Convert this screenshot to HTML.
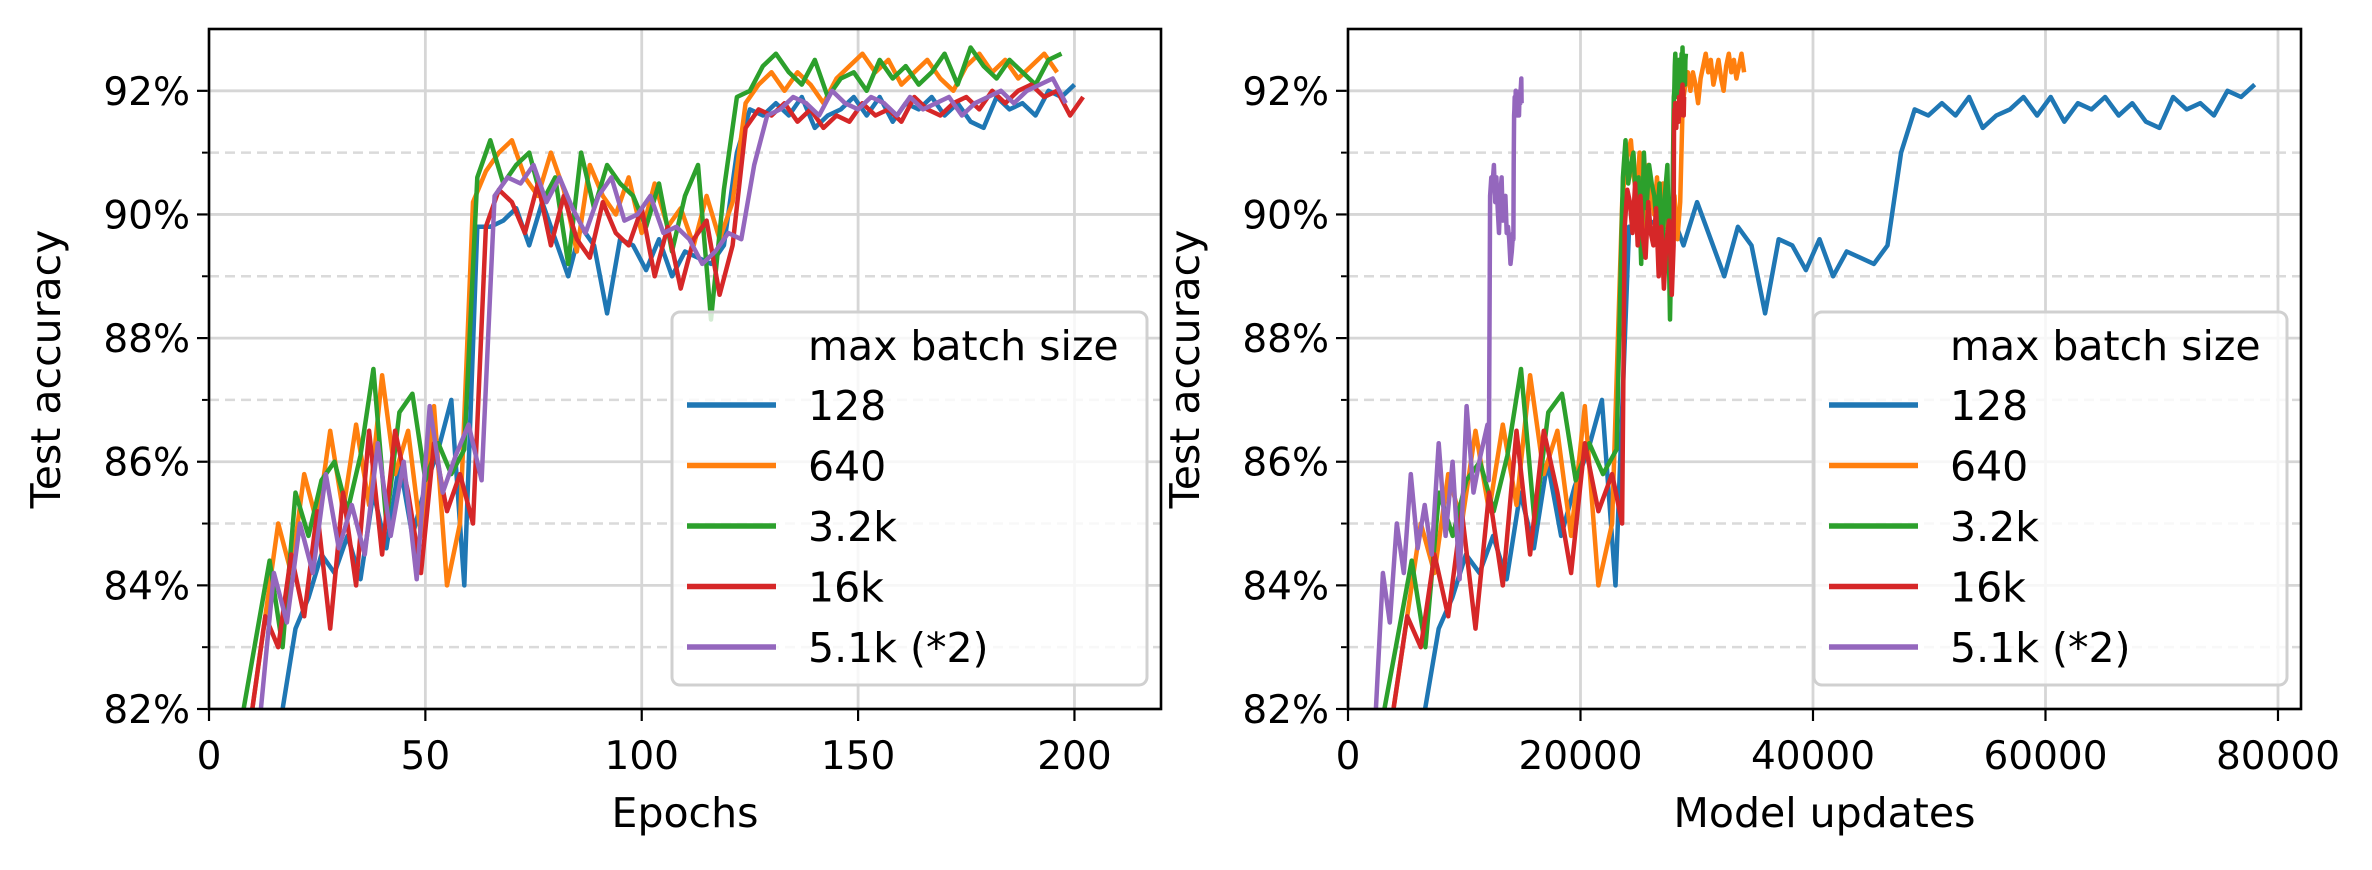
<!DOCTYPE html>
<html><head><meta charset="utf-8"><style>
html,body{margin:0;padding:0;background:#fff;}
svg text{font-family:"DejaVu Sans","Liberation Sans",sans-serif;fill:#000;}
</style></head><body>
<svg id="chart" width="2372" height="865" viewBox="0 0 2372 865" xmlns="http://www.w3.org/2000/svg"></svg>
<script>
const seriesNames = ["128","640","3.2k","16k","5.1k (*2)"];
const seriesColors = ["#1f77b4","#ff7f0e","#2ca02c","#d62728","#9467bd"];
const epochStep = 3;
const startEpochs = [14,10,8,10,12];
const vals128 = [81.5,82,83.3,83.8,84.5,84.2,84.8,84.1,85.5,84.6,86,84.8,85.6,86.2,87,84,89.8,89.8,89.9,90.1,89.5,90.2,89.6,89,89.8,89.5,88.4,89.6,89.5,89.1,89.6,89,89.4,89.3,89.2,89.5,91,91.7,91.6,91.8,91.6,91.9,91.4,91.6,91.7,91.9,91.6,91.9,91.5,91.8,91.7,91.9,91.6,91.8,91.5,91.4,91.9,91.7,91.8,91.6,92,91.9,92.1];
const vals640 = [82,83.5,85,84.2,85.8,85,86.5,85.2,86.6,85.3,87.4,85.8,86.5,84.8,86.9,84,85,90.2,90.7,91,91.2,90.6,90.3,91,90.4,89.4,90.8,90.3,90,90.6,89.7,90.5,89.8,90.1,89.5,90.3,89.6,90.2,91.8,92.1,92.3,92,92.3,92.1,91.8,92.2,92.4,92.6,92.3,92.5,92.1,92.3,92.5,92.2,92,92.4,92.6,92.3,92.5,92.2,92.4,92.6,92.3];
const vals3k = [82,83.2,84.4,83,85.5,84.8,85.7,86,85.2,86.1,87.5,85,86.8,87.1,85.7,86.3,85.8,86.2,90.6,91.2,90.5,90.8,91,90.2,90.6,89.2,91,90.1,90.8,90.5,90.3,89.8,90.5,89.4,90.3,90.8,88.3,90.4,91.9,92,92.4,92.6,92.3,92.1,92.5,91.9,92.2,92.3,92,92.5,92.2,92.4,92.1,92.3,92.6,92.1,92.7,92.4,92.2,92.5,92.3,92.1,92.5,92.6];
const vals16k = [82,83.5,83,84.5,83.5,85.2,83.3,85.5,84,86.5,84.5,86.5,85.5,84.2,86.3,85.2,85.8,85,89.8,90.4,90.2,89.7,90.5,89.5,90.3,89.6,89.3,90.2,89.7,89.5,90.1,89,89.8,88.8,89.6,89.9,88.7,89.5,91.4,91.7,91.6,91.8,91.5,91.7,91.4,91.6,91.5,91.8,91.6,91.7,91.5,91.9,91.7,91.6,91.8,91.9,91.7,92,91.8,92,92.1,91.9,92,91.6,91.9];
const vals51k = [82,84.2,83.4,85,84.2,85.8,84.6,85.3,84.5,86.3,84.8,86,84.1,86.9,85.5,86.1,86.6,85.7,90.3,90.6,90.5,90.8,90.2,90.6,90.1,89.7,90.3,90.6,89.9,90,90.3,89.7,89.8,89.6,89.2,89.4,89.7,89.6,90.8,91.6,91.7,91.9,91.8,91.6,92,91.8,91.7,91.9,91.8,91.6,91.9,91.7,91.8,91.9,91.6,91.8,91.9,92,91.8,92,92.1,92.2,91.8];
const seriesVals = [vals128,vals640,vals3k,vals16k,vals51k];
// epoch -> model update breakpoints
const breakEpochs = [0,60,120,210];
const updates128 = [0,23400,46800,81900];
const updates640 = [0,23500,28500,35100];
const updates3k = [0,23500,28000,29250];
const updates16k = [0,23500,28000,29000];
const updates51k = [0,12000,14200,15050];
const seriesUpdates = [updates128,updates640,updates3k,updates16k,updates51k];
const yTicks = [82,84,86,88,90,92];
const yMinor = [83,85,87,89,91];
const xTicksL = [0,50,100,150,200];
const xTicksR = [0,20000,40000,60000,80000];

const NS="http://www.w3.org/2000/svg";
const svg=document.getElementById('chart');
function mk(tag,attrs,parent){const e=document.createElementNS(NS,tag);for(const k in attrs)e.setAttribute(k,attrs[k]);(parent||svg).appendChild(e);return e;}
function toUpd(ep,br){for(let i=1;i<breakEpochs.length;i++){if(ep<=breakEpochs[i]||i==breakEpochs.length-1){const a=breakEpochs[i-1],b=breakEpochs[i];return br[i-1]+(ep-a)/(b-a)*(br[i]-br[i-1]);}}}

function panel(id,L,R,T,B,xmax,xTicks,xLabel,useUpd,legX){
  const g=mk('g',{});
  
  
  const xs=v=>L+v/xmax*(R-L);
  const ys=v=>B-(v-82)/11*(B-T);
  const cp=mk('clipPath',{id:'clip'+id},g);mk('rect',{x:L,y:T,width:R-L,height:B-T},cp);
  yMinor.forEach(v=>{const l=mk('line',{x1:L,x2:R,y1:ys(v),y2:ys(v),stroke:'#dadada','stroke-width':2.5,'stroke-dasharray':'10,6'},g);
    
    mk('line',{x1:L-7,x2:L,y1:ys(v),y2:ys(v),stroke:'#000','stroke-width':2},g);});
  yTicks.forEach(v=>{const l=mk('line',{x1:L,x2:R,y1:ys(v),y2:ys(v),stroke:'#d6d6d6','stroke-width':2.8},g);
    
    mk('line',{x1:L-12,x2:L,y1:ys(v),y2:ys(v),stroke:'#000','stroke-width':2.2},g);
    const t=mk('text',{x:L-19,y:ys(v)+14,'text-anchor':'end','font-size':39},g);t.textContent=v+'%';
    });
  xTicks.forEach(v=>{const l=mk('line',{x1:xs(v),x2:xs(v),y1:T,y2:B,stroke:'#d6d6d6','stroke-width':2.8},g);
    
    mk('line',{x1:xs(v),x2:xs(v),y1:B,y2:B+12,stroke:'#000','stroke-width':2.2},g);
    const t=mk('text',{x:xs(v),y:B+60,'text-anchor':'middle','font-size':39},g);t.textContent=v;
    });
  const lines=mk('g',{'clip-path':'url(#clip'+id+')'},g);
  seriesVals.forEach((vals,si)=>{
    const pts=vals.map((v,i)=>{const ep=startEpochs[si]+i*epochStep;const x=useUpd?toUpd(ep,seriesUpdates[si]):ep;return xs(x).toFixed(1)+','+ys(v).toFixed(1);});
    const p=mk('polyline',{points:pts.join(' '),fill:'none',stroke:seriesColors[si],'stroke-width':4.5,'stroke-linejoin':'round'},lines);
    
    
  });
  const fr=mk('rect',{x:L,y:T,width:R-L,height:B-T,fill:'none',stroke:'#000','stroke-width':2.6},g);
  
  const xl=mk('text',{x:(L+R)/2,y:827,'text-anchor':'middle','font-size':41},g);xl.textContent=xLabel;
  
  const yl=mk('text',{x:0,y:0,'text-anchor':'middle','font-size':41,transform:'translate('+(L-149)+','+((T+B)/2)+') rotate(-90)'},g);yl.textContent='Test accuracy';
  
  // legend
  const lg=mk('g',{},g);
  
  mk('rect',{x:legX,y:312,width:R-legX-14,height:373,rx:8,fill:'#fff','fill-opacity':0.8,stroke:'#d0d0d0','stroke-width':3},lg);
  const tt=mk('text',{x:legX+136,y:360,'font-size':41},lg);tt.textContent='max batch size';
  
  seriesNames.forEach((n,i)=>{const y=420+i*60.5;
    const e=mk('g',{},lg);
    mk('line',{x1:legX+15,x2:legX+104,y1:y-15,y2:y-15,stroke:seriesColors[i],'stroke-width':5.5},e);
    const t=mk('text',{x:legX+136,y:y,'font-size':41},e);t.textContent=n;});
}
panel('left',209,1161,29,709,220,xTicksL,'Epochs',false,672);
panel('right',1348,2301,29,709,81980,xTicksR,'Model updates',true,1814);
</script>
</body></html>
